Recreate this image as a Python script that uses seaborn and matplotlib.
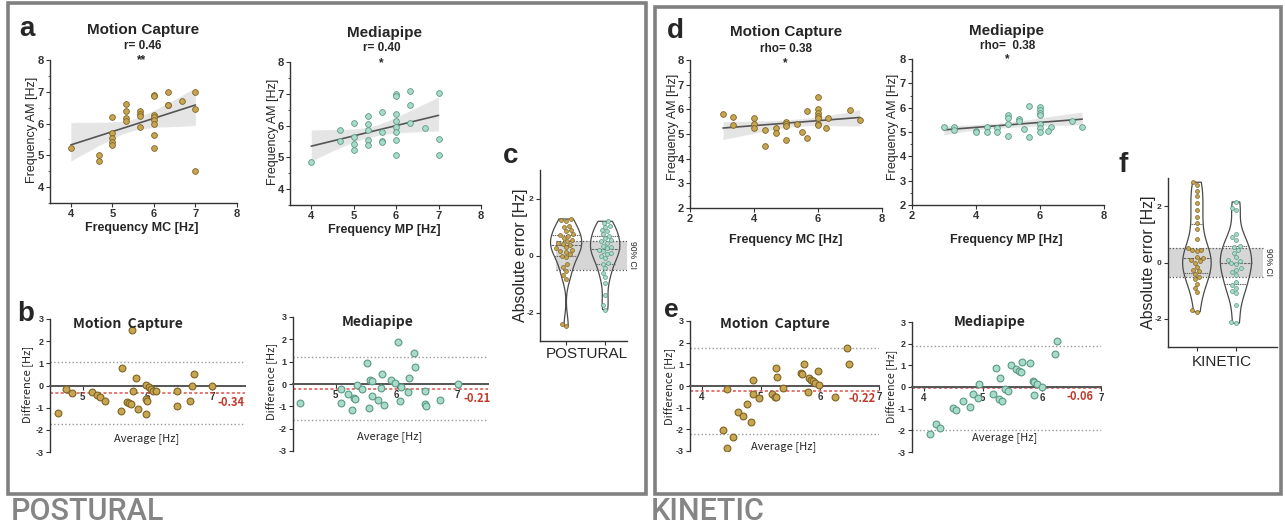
import matplotlib
matplotlib.use("Agg")
import matplotlib.pyplot as plt
from matplotlib.patches import Rectangle
from matplotlib.ticker import MultipleLocator
import seaborn as sns
import pandas as pd

# ---- data ----
# a: POSTURAL correlation
a_mc_x = [4.0, 4.67, 4.67, 5.0, 5.0, 5.0, 5.0, 5.0, 5.33, 5.33, 5.33, 5.33, 5.67, 5.67, 5.67, 5.67,
          6.0, 6.0, 6.0, 6.0, 6.0, 6.0, 6.0, 6.0, 6.33, 6.33, 6.33, 6.67, 7.0, 7.0, 7.0]
a_mc_y = [5.22, 5.0, 4.83, 6.2, 5.7, 5.54, 5.43, 5.31, 6.63, 6.4, 6.16, 6.07, 6.39, 6.3, 6.24, 5.9,
          6.91, 6.88, 6.28, 6.2, 6.11, 5.98, 5.65, 5.22, 7.0, 6.59, 6.57, 6.7, 7.0, 6.45, 4.5]
a_mp_x = [4.0, 4.67, 4.67, 5.0, 5.0, 5.0, 5.0, 5.33, 5.33, 5.33, 5.33, 5.33, 5.67, 5.67, 5.67, 5.67,
          6.0, 6.0, 6.0, 6.0, 6.0, 6.0, 6.0, 6.0, 6.33, 6.33, 6.33, 6.67, 7.0, 7.0, 7.0]
a_mp_y = [4.84, 5.86, 5.5, 6.09, 5.64, 5.43, 5.22, 6.29, 6.05, 5.87, 5.56, 5.38, 6.44, 5.81, 5.51, 5.47,
          7.0, 6.92, 6.36, 6.13, 5.96, 5.8, 5.53, 5.07, 7.1, 6.64, 6.08, 5.92, 7.01, 5.59, 5.07]

# b: POSTURAL Bland-Altman
b_mc_avg = [4.62, 4.75, 4.84, 5.15, 5.22, 5.27, 5.35, 5.60, 5.61, 5.69, 5.71, 5.74, 5.76, 5.78, 5.83,
            5.86, 5.97, 5.98, 5.98, 6.0, 6.03, 6.06, 6.09, 6.13, 6.45, 6.45, 6.66, 6.68, 6.72, 7.0]
b_mc_diff = [-1.22, -0.15, -0.33, -0.30, -0.44, -0.53, -0.69, -1.17, 0.78, -0.74, -0.77, -0.83, 2.50, -0.23, 0.35,
             -1.05, -1.29, 0.03, -0.60, -0.68, -0.08, -0.15, -0.23, -0.27, -0.23, -0.92, -0.68, -0.03, 0.54, -0.02]
b_mp_avg = [4.41, 5.09, 5.08, 5.21, 5.26, 5.30, 5.32, 5.35, 5.43, 5.52, 5.54, 5.57, 5.59, 5.60, 5.69, 5.74,
            5.76, 5.80, 5.90, 5.98, 6.03, 6.05, 6.07, 6.18, 6.20, 6.29, 6.30, 6.47, 6.46, 6.49, 6.71, 7.0]
b_mp_diff = [-0.84, -0.21, -0.84, -0.45, -1.18, -0.61, -0.66, -0.06, -0.21, 0.93, -1.07, 0.19, 0.13, -0.55, -0.72, -0.16,
             0.46, -0.96, 0.19, 0.04, 1.90, -0.75, -0.12, -0.36, 0.25, 1.40, 0.75, -0.30, -0.91, -0.99, -0.73, 0.0]
b_mc_mean, b_mc_loa = -0.34, [1.05, -1.73]
b_mp_mean, b_mp_loa = -0.21, [1.21, -1.62]

# c: POSTURAL absolute error
c_mc = [1.28, 1.25, 1.22, 1.05, 1.0, 0.9, 0.85, 0.75, 0.72, 0.68, 0.62, 0.55, 0.5, 0.45, 0.42, 0.38,
        0.3, 0.25, 0.2, 0.15, 0.12, 0.05, 0.0, -0.05, -0.3, -0.42, -0.55, -0.7, -0.82, -2.42, -2.48]
c_mp = [1.2, 1.15, 1.05, 1.0, 0.9, 0.85, 0.75, 0.7, 0.6, 0.55, 0.5, 0.45, 0.35, 0.3, 0.25, 0.2,
        0.15, 0.1, 0.05, 0.0, -0.1, -0.25, -0.3, -0.45, -0.6, -0.75, -0.95, -1.4, -1.75, -1.9]

# d: KINETIC correlation
d_mc_x = [3.03, 3.35, 3.35, 4.0, 4.0, 4.0, 4.34, 4.34, 4.68, 4.68, 5.0, 5.0, 5.0, 5.0, 5.33,
          5.5, 5.66, 5.66, 6.0, 6.0, 6.0, 6.0, 6.0, 6.0, 6.0, 6.32, 6.26, 7.0, 7.31]
d_mc_y = [5.83, 5.70, 5.37, 5.65, 5.41, 5.24, 5.18, 4.5, 5.25, 5.05, 5.5, 5.4, 5.32, 4.74, 5.41,
          5.08, 5.94, 4.85, 6.5, 6.0, 5.87, 5.74, 5.64, 5.41, 5.35, 5.63, 5.24, 5.96, 5.57]
d_mp_x = [2.99, 3.32, 3.32, 4.0, 4.0, 4.33, 4.33, 4.66, 4.66, 4.99, 4.99, 4.99, 4.99, 5.33, 5.33,
          5.5, 5.66, 5.66, 6.0, 6.0, 6.0, 6.0, 6.0, 6.0, 6.0, 6.33, 6.24, 7.0, 7.32]
d_mp_y = [5.2, 5.22, 5.07, 5.05, 4.99, 5.22, 4.98, 5.18, 4.99, 5.70, 5.58, 5.33, 4.85, 5.55, 5.44,
          5.11, 6.07, 4.81, 6.02, 5.9, 5.78, 5.69, 5.33, 5.17, 5.0, 5.21, 5.06, 5.47, 5.2]

# e: KINETIC Bland-Altman
e_mc_avg = [4.42, 4.36, 4.43, 4.52, 4.62, 4.70, 4.76, 4.83, 4.86, 4.86, 4.96, 5.19, 5.24, 5.25, 5.28,
            5.25, 5.37, 5.68, 5.70, 5.73, 5.79, 5.81, 5.85, 5.88, 5.92, 5.97, 5.98, 6.26, 6.45, 6.49]
e_mc_diff = [-0.12, -2.03, -2.85, -2.35, -1.22, -1.40, -0.85, -1.65, 0.28, -0.38, -0.57, -0.35, -0.49, 0.85, 0.43,
             -0.51, -0.11, 0.62, 0.57, 1.02, -0.26, 0.35, 0.28, 0.23, 0.12, 0.69, 0.03, -0.51, 1.74, 1.03]
e_mp_avg = [4.10, 4.21, 4.28, 4.50, 4.54, 4.66, 4.78, 4.84, 4.92, 4.93, 5.17, 5.23, 5.29, 5.28, 5.33,
            5.37, 5.43, 5.48, 5.56, 5.62, 5.65, 5.66, 5.79, 5.85, 5.87, 5.87, 5.92, 6.0, 6.22, 6.26]
e_mp_diff = [-2.18, -1.72, -1.88, -0.97, -1.05, -0.66, -0.91, -0.34, -0.49, 0.15, -0.34, 0.88, 0.40, -0.57, -0.65,
             -0.09, -0.20, 1.0, 0.85, 0.72, 0.68, 1.15, 1.09, 0.29, 0.23, -0.38, 0.15, 0.0, 1.52, 2.12]
e_mc_mean, e_mc_loa = -0.22, [1.77, -2.22]
e_mp_mean, e_mp_loa = -0.06, [1.88, -1.99]

# f: KINETIC absolute error
f_mc = [2.85, 2.75, 2.55, 2.35, 2.1, 1.85, 1.6, 1.4, 1.2, 0.85, 0.5, 0.45, 0.45, 0.4, 0.2,
        0.15, 0.1, 0.05, 0.0, -0.15, -0.25, -0.3, -0.4, -0.5, -0.6, -0.75, -0.9, -1.05, -1.7, -1.75]
f_mp = [2.15, 1.95, 1.85, 1.0, 0.9, 0.8, 0.6, 0.55, 0.45, 0.35, 0.2, 0.1, 0.05, 0.0, -0.05,
        -0.2, -0.25, -0.35, -0.45, -0.7, -0.8, -0.9, -1.0, -1.1, -1.5, -2.1, -2.15]

MC_FILL, MC_EDGE = "#c8a550", "#7d6425"
MP_FILL, MP_EDGE = "#a8dcc9", "#5b9985"
AXC = "#333333"

sns.set_style("ticks")
plt.rcParams["font.family"] = ["Liberation Sans", "DejaVu Sans"]
plt.rcParams["axes.unicode_minus"] = False
JP = ["Noto Sans CJK JP", "DejaVu Sans"]

W, H = 1285, 526
fig = plt.figure(figsize=(W / 100, H / 100), dpi=100)


def rect(l, t, r, b):
    return [l / W, 1 - b / H, (r - l) / W, (b - t) / H]


def ftext(x, y, s, **kw):
    fig.text(x / W, 1 - y / H, s, ha=kw.pop("ha", "center"), va=kw.pop("va", "center"), **kw)


def style_axis(ax, size):
    for side in ["top", "right"]:
        ax.spines[side].set_visible(False)
    for side in ["left", "bottom"]:
        ax.spines[side].set_color(AXC)
        ax.spines[side].set_linewidth(1.0)
    ax.tick_params(labelsize=size, colors=AXC, length=3, width=0.8, pad=1.5)
    for lab in ax.get_xticklabels() + ax.get_yticklabels():
        lab.set_fontweight("bold")
    ax.set_xlabel("")
    ax.set_ylabel("")


def scatter_panel(box, x, y, fill, edge, lim_x, lim_y, xticks, yticks):
    ax = fig.add_axes(rect(*box))
    sns.regplot(x=x, y=y, ax=ax, ci=95, color="#555555",
                scatter_kws=dict(s=17, color=fill, edgecolors=edge, linewidths=0.6, alpha=1, zorder=3),
                line_kws=dict(lw=1.2))
    ax.set_xlim(*lim_x)
    ax.set_ylim(*lim_y)
    ax.set_xticks(xticks)
    ax.set_yticks(yticks)
    ax.yaxis.set_minor_locator(MultipleLocator(0.5))
    ax.tick_params(axis="y", which="minor", length=1.5, width=0.6, colors=AXC)
    style_axis(ax, 8)
    return ax


def ba_panel(box, avg, diff, fill, edge, lim_x, xticks, mean, loa):
    ax = fig.add_axes(rect(*box))
    ax.axhline(loa[0], color="#9a9a9a", ls=":", lw=1.0, zorder=1)
    ax.axhline(loa[1], color="#9a9a9a", ls=":", lw=1.0, zorder=1)
    ax.axhline(mean, color="#d9534f", ls=(0, (2, 1.5)), lw=1.1, zorder=1)
    sns.scatterplot(x=avg, y=diff, ax=ax, s=24, color=fill, edgecolor=edge, linewidth=0.8, zorder=3)
    ax.set_xlim(*lim_x)
    ax.set_ylim(-3, 3)
    ax.set_xticks(xticks)
    ax.set_yticks([-3, -2, -1, 0, 1, 2, 3])
    ax.spines["bottom"].set_position(("data", 0))
    style_axis(ax, 7)
    ax.spines["bottom"].set_linewidth(1.4)
    ax.spines["bottom"].set_color("#555555")
    ax.tick_params(axis="y", labelsize=6.5)
    return ax


def violin_panel(box, mc, mp, lim_x, band_x):
    ax = fig.add_axes(rect(*box))
    ax.fill_between(band_x, -0.5, 0.5, color="#d6d6d6", lw=0, zorder=0)
    ax.hlines([-0.5, 0.5], band_x[0], band_x[1], colors="#555555", linestyles=":", lw=0.9, zorder=1)
    df = pd.DataFrame({"method": ["MC"] * len(mc) + ["MP"] * len(mp), "err": mc + mp})
    sns.violinplot(data=df, x="method", y="err", order=["MC", "MP"], fill=False, color="#4a4a4a",
                   linewidth=0.9, inner="quart", cut=0, width=0.8, bw_adjust=0.8, ax=ax,
                   inner_kws=dict(linestyle=":", color="#666666", linewidth=0.8))
    sns.swarmplot(x=["MC"] * len(mc), y=mc, order=["MC", "MP"], color=MC_FILL, edgecolor=MC_EDGE,
                  linewidth=0.5, size=2.8, ax=ax, zorder=3)
    sns.swarmplot(x=["MP"] * len(mp), y=mp, order=["MC", "MP"], color=MP_FILL, edgecolor=MP_EDGE,
                  linewidth=0.5, size=2.8, ax=ax, zorder=3)
    ax.set_xlim(*lim_x)
    ax.set_ylim(-3, 3)
    ax.set_xticks([0, 1])
    ax.set_xticklabels(["", ""])
    ax.set_yticks([-2, 0, 2])
    style_axis(ax, 6)
    return ax


# ---- frames ----
for (l, t, r, b) in [(8, 3, 646, 494), (655, 7, 1281, 494)]:
    fig.add_artist(Rectangle((l / W, 1 - b / H), (r - l) / W, (b - t) / H, transform=fig.transFigure,
                             fill=False, ec="#808080", lw=2.6))
ftext(11, 511, "POSTURAL", ha="left", fontsize=22, color="#858585", fontweight="medium",
      family=["Roboto", "DejaVu Sans"])
ftext(651, 511, "KINETIC", ha="left", fontsize=22, color="#858585", fontweight="medium",
      family=["Roboto", "DejaVu Sans"])

# ---- a ----
scatter_panel((50, 60, 237, 203), a_mc_x, a_mc_y, MC_FILL, MC_EDGE, (3.5, 8), (3.5, 8), [4, 5, 6, 7, 8], [4, 5, 6, 7, 8])
scatter_panel((290, 62, 481, 205), a_mp_x, a_mp_y, MP_FILL, MP_EDGE, (3.5, 8), (3.5, 8), [4, 5, 6, 7, 8], [4, 5, 6, 7, 8])
ftext(27, 29, "a", fontsize=20, fontweight="bold")
ftext(143, 30, "Motion Capture", fontsize=11, fontweight="bold")
ftext(143, 46, "r= 0.46", fontsize=8.5, fontweight="bold")
ftext(142, 60, "**", fontsize=8.5, fontweight="bold")
ftext(384, 33, "Mediapipe", fontsize=11, fontweight="bold")
ftext(382, 48, "r= 0.40", fontsize=8.5, fontweight="bold")
ftext(381, 63, "*", fontsize=8.5, fontweight="bold")
ftext(32, 130, "Frequency AM [Hz]", rotation=90, fontsize=9)
ftext(273, 132, "Frequency AM [Hz]", rotation=90, fontsize=9)
ftext(142, 228, "Frequency MC [Hz]", fontsize=9, fontweight="bold")
ftext(384, 230, "Frequency MP [Hz]", fontsize=9, fontweight="bold")

# ---- b ----
ba_panel((50, 319, 245, 452), b_mc_avg, b_mc_diff, MC_FILL, MC_EDGE, (4.5, 7.5), [5, 6, 7], b_mc_mean, b_mc_loa)
ba_panel((293, 317, 488, 451), b_mp_avg, b_mp_diff, MP_FILL, MP_EDGE, (4.3, 7.5), [5, 6, 7], b_mp_mean, b_mp_loa)
ftext(26, 314, "b", fontsize=20, fontweight="bold")
ftext(128, 324, "Motion  Capture", fontsize=10, fontweight="bold", family=JP)
ftext(378, 322, "Mediapipe", fontsize=10, fontweight="bold", family=JP)
ftext(28, 384, "Difference [Hz]", rotation=90, fontsize=8, family=JP)
ftext(272, 381, "Difference [Hz]", rotation=90, fontsize=8, family=JP)
ftext(147, 439, "Average [Hz]", fontsize=8, family=JP)
ftext(390, 437, "Average [Hz]", fontsize=8, family=JP)
ftext(231, 403, "-0.34", fontsize=8, fontweight="bold", color="#c0392b", family=JP)
ftext(477, 398, "-0.21", fontsize=8, fontweight="bold", color="#c0392b", family=JP)

# ---- c ----
violin_panel((540, 170, 627, 341), c_mc, c_mp, (-0.67, 1.56), (-0.26, 1.56))
ftext(511, 156, "c", fontsize=20, fontweight="bold")
ftext(520, 255, "Absolute error [Hz]", rotation=90, fontsize=11.5)
ftext(587, 354, "POSTURAL", fontsize=11)
ftext(633, 255, "90% CI", rotation=270, fontsize=6.2)

# ---- d ----
scatter_panel((690, 60, 882, 208), d_mc_x, d_mc_y, MC_FILL, MC_EDGE, (2, 8), (2, 8), [2, 4, 6, 8], [2, 3, 4, 5, 6, 7, 8])
scatter_panel((912, 59, 1104, 205), d_mp_x, d_mp_y, MP_FILL, MP_EDGE, (2, 8), (2, 8), [2, 4, 6, 8], [2, 3, 4, 5, 6, 7, 8])
ftext(675, 31, "d", fontsize=20, fontweight="bold")
ftext(786, 32, "Motion Capture", fontsize=11, fontweight="bold")
ftext(786, 49, "rho= 0.38", fontsize=8.5, fontweight="bold")
ftext(785, 63, "*", fontsize=8.5, fontweight="bold")
ftext(1007, 31, "Mediapipe", fontsize=11, fontweight="bold")
ftext(1008, 46, "rho=  0.38", fontsize=8.5, fontweight="bold")
ftext(1007, 59, "*", fontsize=8.5, fontweight="bold")
ftext(673, 127, "Frequency AM [Hz]", rotation=90, fontsize=9)
ftext(893, 127, "Frequency AM [Hz]", rotation=90, fontsize=9)
ftext(786, 240, "Frequency MC [Hz]", fontsize=9, fontweight="bold")
ftext(1006, 240, "Frequency MP [Hz]", fontsize=9, fontweight="bold")

# ---- e ----
ba_panel((690, 321, 879, 451), e_mc_avg, e_mc_diff, MC_FILL, MC_EDGE, (3.8, 7), [4, 5, 6, 7], e_mc_mean, e_mc_loa)
ba_panel((912, 322, 1101, 452), e_mp_avg, e_mp_diff, MP_FILL, MP_EDGE, (3.8, 7), [4, 5, 6, 7], e_mp_mean, e_mp_loa)
ftext(671, 310, "e", fontsize=19, fontweight="bold")
ftext(775, 324, "Motion  Capture", fontsize=10, fontweight="bold", family=JP)
ftext(990, 322, "Mediapipe", fontsize=10, fontweight="bold", family=JP)
ftext(670, 386, "Difference [Hz]", rotation=90, fontsize=8, family=JP)
ftext(892, 386, "Difference [Hz]", rotation=90, fontsize=7.6, family=JP)
ftext(784, 447, "Average [Hz]", fontsize=8, family=JP)
ftext(1005, 438, "Average [Hz]", fontsize=8, family=JP)
ftext(862, 399, "-0.22", fontsize=8, fontweight="bold", color="#c0392b", family=JP)
ftext(1080, 397, "-0.06", fontsize=8, fontweight="bold", color="#c0392b", family=JP)

# ---- f ----
violin_panel((1168, 178, 1277, 347), f_mc, f_mp, (-0.74, 2.05), (-0.72, 1.69))
ftext(1123, 165, "f", fontsize=20, fontweight="bold")
ftext(1148, 262, "Absolute error [Hz]", rotation=90, fontsize=11.5)
ftext(1222, 362, "KINETIC", fontsize=11)
ftext(1268, 262, "90% CI", rotation=270, fontsize=6.2)

fig.savefig("out.png", dpi=100)
